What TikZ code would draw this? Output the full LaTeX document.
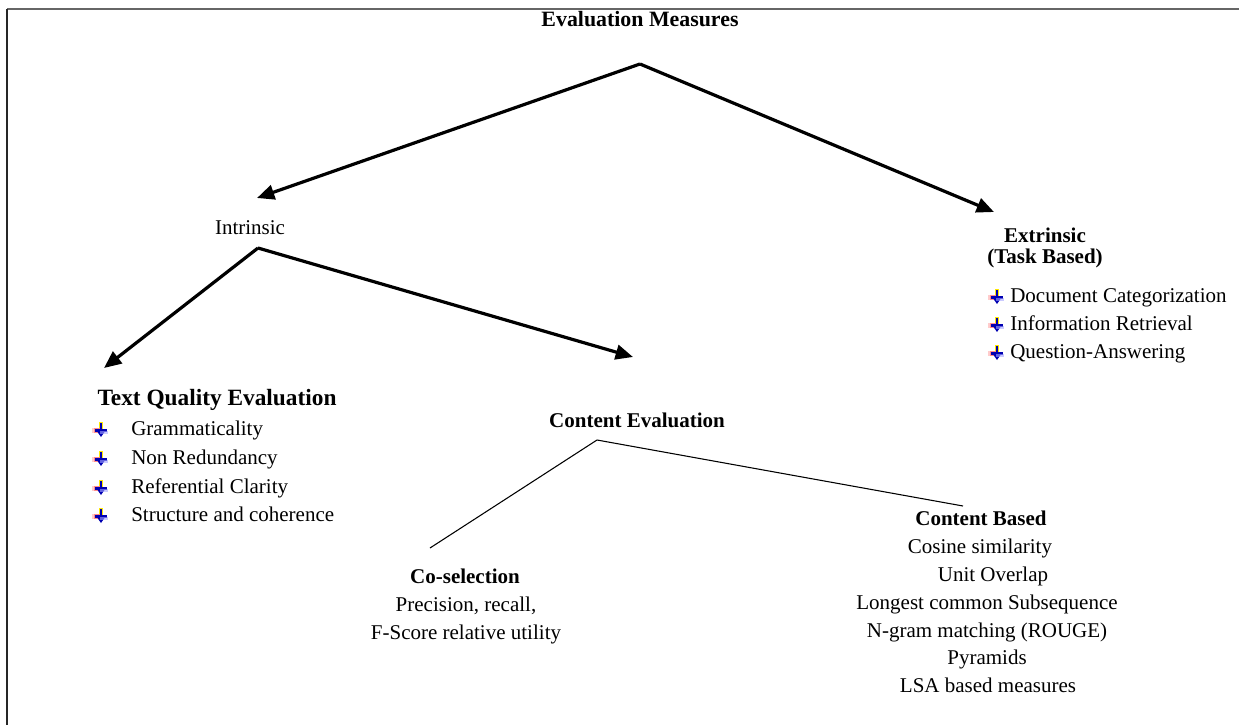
\documentclass[tikz,border=0pt]{standalone}
\usepackage{fontspec}
\setmainfont{Liberation Serif}
\usetikzlibrary{arrows.meta}
\tikzset{
  lbl/.style={inner sep=0pt, font=\fontsize{15.75pt}{19pt}\selectfont, text height=1.6ex, text depth=0.4ex},
  blbl/.style={lbl, font=\fontsize{15.75pt}{19pt}\selectfont\bfseries},
  item/.style={lbl, anchor=west},
  bigarrow/.style={line width=2.4pt, -{Triangle[length=13pt,width=11pt]}},
  thinline/.style={line width=0.8pt},
  bul/.pic={
    \fill[yellow!90!orange] (-2.5,-8) rectangle (2,-1);
    \fill[red!45] (-8,-2) rectangle (0,2.5);
    \fill[red!20] (-9,-2.5) rectangle (-7,3);
    \draw[blue!70!black, line width=1.6pt] (0,-7) -- (0,5);
    \draw[blue!70!black, line width=1.6pt] (-6,0.5) -- (6,0.5);
    \fill[blue!70!black] (-3.5,2) -- (3.5,2) -- (0,7) -- cycle;
    \fill[blue!35, opacity=0.6] (-1,1) rectangle (7,4);
  }
}
\begin{document}
\begin{tikzpicture}[x=0.75pt,y=-0.75pt]
\useasboundingbox (0,0) rectangle (1239,725);
% frame
\draw[line width=1.5pt, black!60] (7,9) -- (1239,9);
\draw[line width=1.5pt, black!85] (7,9) -- (7,725);

% nodes
\node[blbl, font=\fontsize{16.4pt}{19pt}\selectfont\bfseries] (em) at (640,23) {Evaluation Measures};
\node[lbl] (intr) at (250,231) {Intrinsic};
\node[blbl] (extr) at (1045,239) {Extrinsic};
\node[blbl] (task) at (1045,260) {(Task Based)};
\node[item] (e1) at (1010,299) {Document Categorization};
\node[item] (e2) at (1010,327) {Information Retrieval};
\node[item] (e3) at (1010,355) {Question-Answering};
\pic at (997,297) {bul};
\pic at (997,325) {bul};
\pic at (997,353) {bul};

\node[blbl, font=\fontsize{17.5pt}{20pt}\selectfont\bfseries] (tq) at (217,402) {Text Quality Evaluation};
\node[item] (t1) at (131,432) {Grammaticality};
\node[item] (t2) at (131,461) {Non Redundancy};
\node[item] (t3) at (131,490) {Referential Clarity};
\node[item] (t4) at (131,518) {Structure and coherence};
\pic at (101,430) {bul};
\pic at (101,459) {bul};
\pic at (101,488) {bul};
\pic at (101,516) {bul};

\node[blbl] (ce) at (637,424) {Content Evaluation};

\node[blbl] (cs) at (465,580) {Co-selection};
\node[lbl] (cs1) at (466,608) {Precision, recall,};
\node[lbl] (cs2) at (466,636) {F-Score relative utility};

\node[blbl] (cb) at (981,522) {Content Based};
\node[lbl] (c1) at (980,550) {Cosine similarity};
\node[lbl] (c2) at (993,578) {Unit Overlap};
\node[lbl] (c3) at (987,606) {Longest common Subsequence};
\node[lbl] (c4) at (987,634) {N-gram matching (ROUGE)};
\node[lbl] (c5) at (987,661) {Pyramids};
\node[lbl] (c6) at (988,689) {LSA based measures};

% connector points
\coordinate (a0) at (640,64);
\coordinate (a1) at (258,248);
\coordinate (a2) at (597,440);
\coordinate (tI) at (257,198);
\coordinate (tE) at (994,212);
\coordinate (tT) at (104,368);
\coordinate (tC) at (633,357);
\coordinate (tS) at (430,548);
\coordinate (tB) at (963,506);

\draw[bigarrow] (a0) -- (tI);
\draw[bigarrow] (a0) -- (tE);
\draw[bigarrow] (a1) -- (tT);
\draw[bigarrow] (a1) -- (tC);
\draw[thinline] (a2) -- (tS);
\draw[thinline] (a2) -- (tB);
\end{tikzpicture}
\end{document}
